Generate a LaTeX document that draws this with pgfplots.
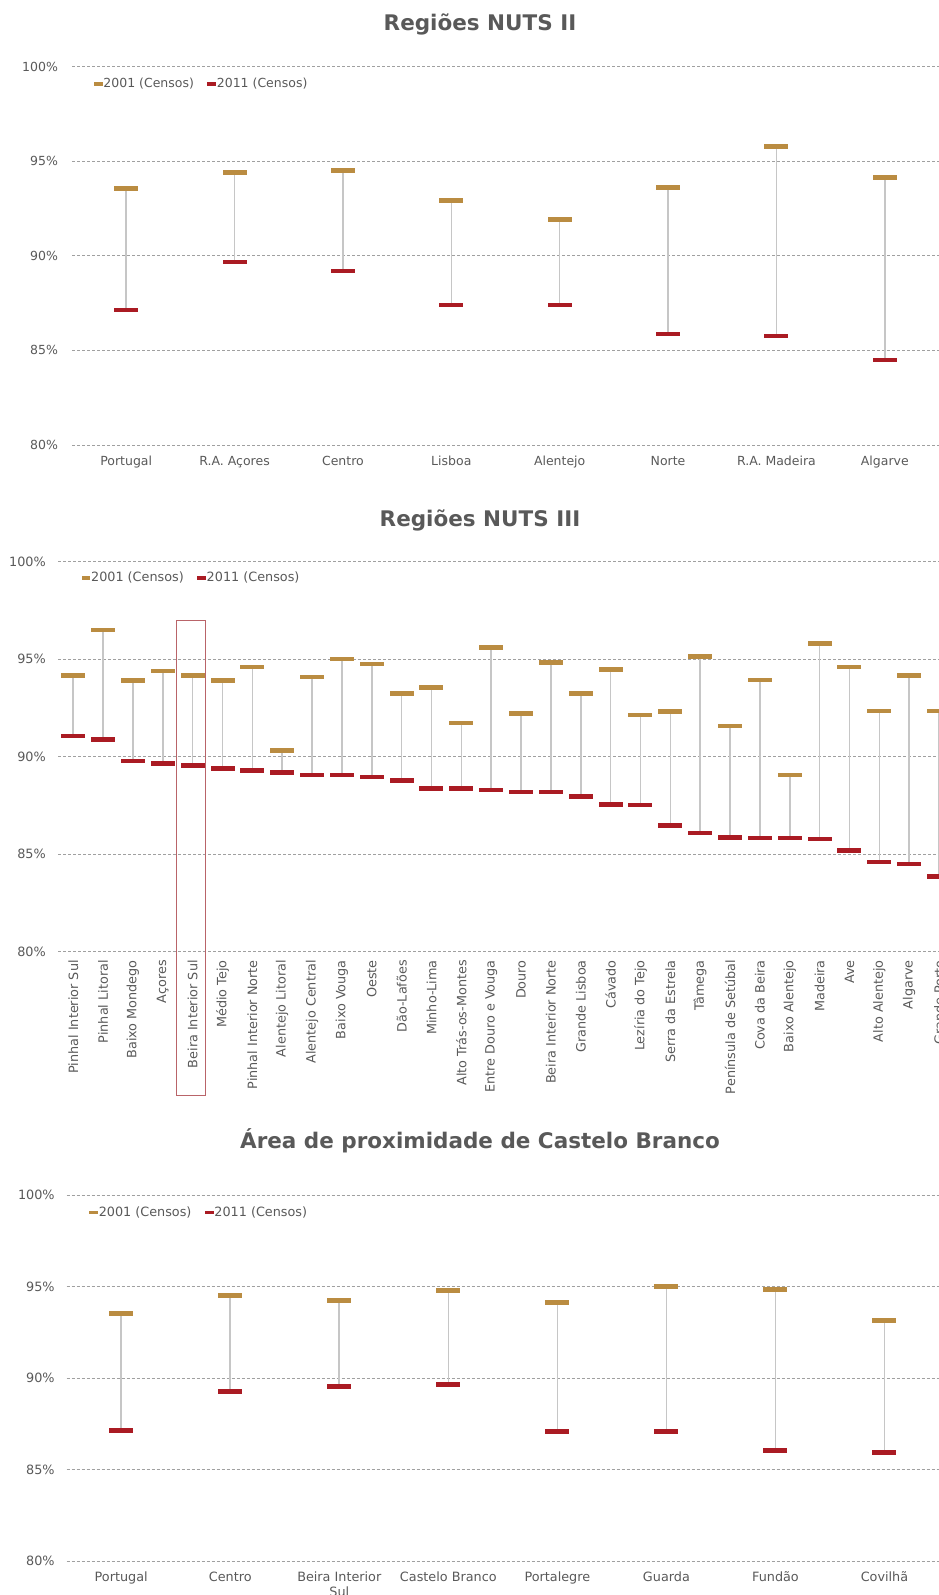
\documentclass[border=0pt]{standalone}
\usepackage{pgfplots}
\pgfplotsset{compat=1.18}
\usepackage{pgfplotstable}
\usepackage{fontspec}
\setmainfont{DejaVu Sans}
\definecolor{gold}{RGB}{186,140,65}
\definecolor{dred}{RGB}{170,27,35}
\definecolor{conn}{RGB}{198,198,198}
\definecolor{gridc}{RGB}{160,160,160}
\definecolor{txt}{RGB}{89,89,89}
\definecolor{boxc}{RGB}{185,100,105}

\pgfdeclareplotmark{hbar}{%
  \pgfpathrectangle{\pgfpoint{-12pt}{-2.4pt}}{\pgfpoint{24pt}{4.8pt}}%
  \pgfusepathqfill}

\pgfplotstableread{
x a b
0 93.55 87.14
1 94.40 89.68
2 94.51 89.20
3 92.92 87.40
4 91.91 87.40
5 93.60 85.87
6 95.78 85.76
7 94.13 84.49
}\tabA

\pgfplotstableread{
x a b
0 94.15 91.06
1 96.50 90.90
2 93.89 89.78
3 94.40 89.67
4 94.18 89.53
5 93.89 89.41
6 94.60 89.31
7 90.33 89.21
8 94.09 89.06
9 95.01 89.06
10 94.75 88.96
11 93.26 88.80
12 93.54 88.39
13 91.73 88.35
14 95.58 88.29
15 92.20 88.19
16 94.85 88.19
17 93.26 87.98
18 94.46 87.56
19 92.14 87.52
20 92.30 86.48
21 95.13 86.09
22 91.57 85.87
23 93.93 85.83
24 89.06 85.83
25 95.80 85.78
26 94.60 85.17
27 92.34 84.60
28 94.15 84.50
29 92.34 83.87
}\tabB

\pgfplotstableread{
x a b
0 93.53 87.14
1 94.52 89.27
2 94.24 89.54
3 94.79 89.65
4 94.13 87.09
5 95.00 87.09
6 94.84 86.05
7 93.15 85.94
}\tabC

\pgfplotsset{
  dumb/.style={
    scale only axis, xmin=-0.5, ymin=80, ymax=100,
    ytick={80,85,90,95,100}, yticklabels={80\%,85\%,90\%,95\%,100\%},
    axis line style={draw=none}, major tick length=0pt,
    ymajorgrids,
    grid style={dash pattern=on 3pt off 2pt, line width=0.9pt, color=gridc},
    clip=false,
    legend columns=2,
    legend cell align=left,
    legend style={draw=none, fill=none, inner sep=0pt, outer sep=0pt, anchor=west,
      /tikz/every even column/.append style={column sep=12pt},
      nodes={inner xsep=1.5pt, inner ysep=0pt, text=txt}},
  },
}

\newcommand\dumbbells[1]{%
  \addplot[forget plot, draw=none, mark=none,
    error bars/.cd, y dir=minus, y explicit, error mark=none,
    error bar style={draw=conn, line width=1.6pt, solid}]
    table[x=x, y=a, y error minus expr=\thisrow{a}-\thisrow{b}] {#1};
  \addplot[only marks, mark=hbar, color=gold,
    mark options={fill=gold, draw=none},
    legend image code/.code={\fill[gold] (0pt,-1.4pt) rectangle (7.5pt,1.4pt);}]
    table[x=x, y=a] {#1};
  \addlegendentry{2001 (Censos)}
  \addplot[only marks, mark=hbar, color=dred,
    mark options={fill=dred, draw=none},
    legend image code/.code={\fill[dred] (0pt,-1.4pt) rectangle (7.5pt,1.4pt);}]
    table[x=x, y=b] {#1};
  \addlegendentry{2011 (Censos)}
}

\begin{document}
\begin{tikzpicture}
\useasboundingbox (0,0) rectangle (939pt,-1595pt);
\clip (0,0) rectangle (939pt,-1595pt);

% ---------- Chart 1 ----------
\node[anchor=base, text=txt, font=\fontsize{21.5}{25}\selectfont\bfseries] at (480pt,-31pt) {Regiões NUTS II};
\begin{axis}[dumb, at={(72pt,-66.7pt)}, anchor=north west,
  width=867pt, height=378.3pt, xmax=7.5,
  xtick={0,...,7},
  xticklabels={Portugal,R.A. Açores,Centro,Lisboa,Alentejo,Norte,R.A. Madeira,Algarve},
  tick label style={font=\fontsize{12.5}{15}\selectfont, text=txt},
  xticklabel style={yshift=-7.5pt},
  yticklabel style={xshift=-10.5pt},
  legend style={at={(axis description cs:0.0254,0.956)}, font=\fontsize{12.5}{15}\selectfont},
]
\dumbbells{\tabA}
\end{axis}

% ---------- Chart 2 ----------
\node[anchor=base, text=txt, font=\fontsize{21.5}{25}\selectfont\bfseries] at (480pt,-526pt) {Regiões NUTS III};
\begin{axis}[dumb, at={(58.3pt,-561.7pt)}, anchor=north west,
  width=880.7pt, height=390pt, xmax=29,
  xtick={0,...,29},
  xticklabels={Pinhal Interior Sul,Pinhal Litoral,Baixo Mondego,Açores,Beira Interior Sul,Médio Tejo,Pinhal Interior Norte,Alentejo Litoral,Alentejo Central,Baixo Vouga,Oeste,Dão-Lafões,Minho-Lima,Alto Trás-os-Montes,Entre Douro e Vouga,Douro,Beira Interior Norte,Grande Lisboa,Cávado,Lezíria do Tejo,Serra da Estrela,Tâmega,Península de Setúbal,Cova da Beira,Baixo Alentejo,Madeira,Ave,Alto Alentejo,Algarve,Grande Porto},
  tick label style={font=\fontsize{12.8}{15}\selectfont, text=txt},
  xticklabel style={yshift=-5pt, rotate=90, anchor=east},
  yticklabel style={xshift=-9pt},
  legend style={at={(axis description cs:0.0266,0.96)}, font=\fontsize{12.8}{15}\selectfont},
]
\dumbbells{\tabB}
\draw[boxc, line width=1.3pt] (axis cs:3.47,96.97) rectangle (axis cs:4.44,72.62);
\end{axis}

% ---------- Chart 3 ----------
\node[anchor=base, text=txt, font=\fontsize{21.5}{25}\selectfont\bfseries] at (480pt,-1148pt) {Área de proximidade de Castelo Branco};
\begin{axis}[dumb, at={(66.7pt,-1195pt)}, anchor=north west,
  width=872.3pt, height=366pt, xmax=7.5,
  xtick={0,...,7},
  xticklabels={Portugal,Centro,{Beira Interior\\Sul},Castelo Branco,Portalegre,Guarda,Fundão,Covilhã},
  tick label style={font=\fontsize{12.8}{15}\selectfont, text=txt},
  xticklabel style={yshift=-7.5pt, align=center},
  yticklabel style={xshift=-8.5pt},
  legend style={at={(axis description cs:0.026,0.953)}, font=\fontsize{12.8}{15}\selectfont},
]
\dumbbells{\tabC}
\end{axis}
\end{tikzpicture}
\end{document}
